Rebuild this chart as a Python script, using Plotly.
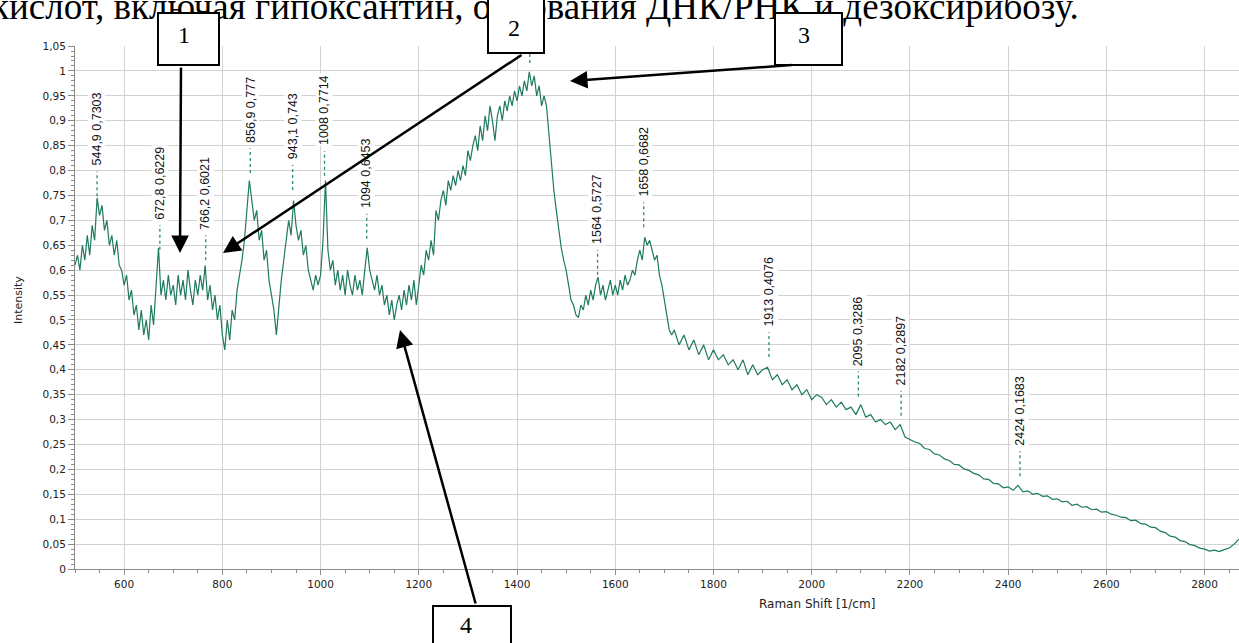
import plotly.graph_objects as go

# ---------------- data ----------------
# Raman spectrum, 500-1715 cm-1 (step 5)
x_fine = list(range(500, 1720, 5))
y_fine = [
    0.61, 0.63, 0.60, 0.65, 0.62, 0.67, 0.63, 0.69, 0.66, 0.745,   # 500-545
    0.71, 0.73, 0.68, 0.70, 0.65, 0.67, 0.63, 0.66, 0.61, 0.60,    # 550-595
    0.57, 0.59, 0.54, 0.56, 0.51, 0.53, 0.48, 0.52, 0.47, 0.50,    # 600-645
    0.46, 0.53, 0.49, 0.57, 0.645, 0.55, 0.58, 0.54, 0.59, 0.55,   # 650-695
    0.57, 0.53, 0.59, 0.55, 0.58, 0.54, 0.60, 0.56, 0.53, 0.58,    # 700-745
    0.55, 0.59, 0.56, 0.61, 0.54, 0.57, 0.52, 0.55, 0.50, 0.53,    # 750-795
    0.47, 0.44, 0.50, 0.46, 0.52, 0.50, 0.56, 0.59, 0.62, 0.66,    # 800-845
    0.72, 0.78, 0.74, 0.70, 0.72, 0.66, 0.68, 0.62, 0.64, 0.58,    # 850-895
    0.55, 0.52, 0.47, 0.53, 0.58, 0.62, 0.66, 0.70, 0.67, 0.74,    # 900-945
    0.69, 0.66, 0.68, 0.63, 0.65, 0.60, 0.58, 0.56, 0.59, 0.57,    # 950-995
    0.59, 0.66, 0.78, 0.64, 0.60, 0.62, 0.57, 0.60, 0.56, 0.59,    # 1000-1045
    0.55, 0.60, 0.57, 0.55, 0.59, 0.56, 0.58, 0.55, 0.60, 0.645,   # 1050-1095
    0.60, 0.58, 0.56, 0.59, 0.55, 0.57, 0.53, 0.55, 0.51, 0.54,    # 1100-1145
    0.50, 0.53, 0.55, 0.52, 0.56, 0.53, 0.57, 0.54, 0.58, 0.53,    # 1150-1195
    0.57, 0.61, 0.59, 0.64, 0.62, 0.66, 0.63, 0.72, 0.70, 0.74,    # 1200-1245
    0.76, 0.73, 0.78, 0.76, 0.79, 0.77, 0.80, 0.78, 0.81, 0.79,    # 1250-1295
    0.84, 0.82, 0.85, 0.87, 0.84, 0.89, 0.86, 0.91, 0.88, 0.93,    # 1300-1345
    0.90, 0.86, 0.91, 0.93, 0.90, 0.94, 0.92, 0.95, 0.93, 0.96,    # 1350-1395
    0.94, 0.97, 0.95, 0.98, 0.96, 0.998, 0.97, 0.99, 0.95, 0.97,   # 1400-1445
    0.93, 0.95, 0.93, 0.87, 0.81, 0.76, 0.72, 0.68, 0.645, 0.62,   # 1450-1495
    0.60, 0.57, 0.54, 0.53, 0.51, 0.505, 0.53, 0.52, 0.55, 0.53,   # 1500-1545
    0.56, 0.54, 0.57, 0.586, 0.55, 0.57, 0.54, 0.56, 0.58, 0.55,   # 1550-1595
    0.57, 0.55, 0.58, 0.56, 0.59, 0.57, 0.58, 0.60, 0.59, 0.62,    # 1600-1645
    0.64, 0.62, 0.666, 0.65, 0.66, 0.64, 0.62, 0.63, 0.59, 0.57,   # 1650-1695
    0.54, 0.51, 0.48, 0.47,                                        # 1700-1715
]
# Raman spectrum, 1720-2870 cm-1 (step 10)
x_coarse = list(range(1720, 2880, 10))
y_coarse = [
    0.48, 0.45, 0.47, 0.44, 0.46, 0.43, 0.45, 0.42, 0.44, 0.42,            # 1720-1810
    0.43, 0.41, 0.42, 0.40, 0.42, 0.39, 0.41, 0.39, 0.40, 0.405,           # 1820-1910
    0.38, 0.39, 0.37, 0.38, 0.36, 0.37, 0.35, 0.36, 0.34, 0.35,            # 1920-2010
    0.345, 0.33, 0.34, 0.325, 0.335, 0.32, 0.325, 0.31, 0.33, 0.305,       # 2020-2110
    0.31, 0.295, 0.30, 0.29, 0.295, 0.28, 0.29, 0.265, 0.26, 0.255,        # 2120-2210
    0.252, 0.242, 0.240, 0.231, 0.229, 0.221, 0.218, 0.210, 0.209, 0.201,  # 2220-2310
    0.198, 0.192, 0.189, 0.181, 0.180, 0.172, 0.171, 0.163, 0.165, 0.158,  # 2320-2410
    0.168, 0.155, 0.157, 0.150, 0.152, 0.146, 0.147, 0.140, 0.141, 0.135,  # 2420-2510
    0.136, 0.128, 0.130, 0.124, 0.125, 0.119, 0.120, 0.114, 0.115, 0.110,  # 2520-2610
    0.108, 0.104, 0.103, 0.097, 0.098, 0.091, 0.090, 0.084, 0.083, 0.076,  # 2620-2710
    0.073, 0.066, 0.064, 0.057, 0.055, 0.049, 0.047, 0.042, 0.040, 0.036,  # 2720-2810
    0.038, 0.035, 0.039, 0.042, 0.050, 0.060,                              # 2820-2870
]

# labelled peaks
peak_x = [544.9, 672.8, 766.2, 856.9, 943.1, 1008, 1094, 1564, 1658, 1913, 2095, 2182, 2424]
peak_y = [0.7303, 0.6229, 0.6021, 0.777, 0.743, 0.7714, 0.6453, 0.5727, 0.6682,
          0.4076, 0.3286, 0.2897, 0.1683]
# peak whose label is hidden behind box 2
hidden_peak_x = [1426]
hidden_peak_y = [0.998]

# axis ticks
x_ticks = [600, 800, 1000, 1200, 1400, 1600, 1800, 2000, 2200, 2400, 2600, 2800]
y_ticks = [round(0.05 * i, 2) for i in range(22)]
y_tick_text = [("%g" % v).replace(".", ",") for v in y_ticks]

caption_text = "кислот, включая гипоксантин, основания ДНК/РНК и дезоксирибозу."
box_labels = ["1", "2", "3", "4"]

# ---------------- layout constants ----------------
W, H = 1239, 643
L, R, T, B = 75, 0, 46, 74
PW, PH = W - L - R, H - T - B
LINE = "#1e7a60"


def fx(px):
    return (px - L) / PW


def fy(py):
    return (H - B - py) / PH


def fmt(v):
    return ("%g" % v).replace(".", ",")


fig = go.Figure()

fig.add_trace(go.Scatter(
    x=x_fine + x_coarse, y=y_fine + y_coarse, mode="lines",
    line=dict(color=LINE, width=1.2), hoverinfo="skip", showlegend=False))

# dotted peak markers
mx, my = [], []
for px_, py_ in zip(peak_x + hidden_peak_x, peak_y + hidden_peak_y):
    mx += [px_, px_, None]
    my += [py_ + 0.018, py_ + 0.068, None]
fig.add_trace(go.Scatter(
    x=mx, y=my, mode="lines", line=dict(color="#2a8a6e", width=1.3, dash="dot"),
    hoverinfo="skip", showlegend=False))

annotations = []
for px_, py_ in zip(peak_x, peak_y):
    annotations.append(dict(
        x=px_, y=py_ + 0.075, xref="x", yref="y", xanchor="center", yanchor="bottom",
        text=fmt(px_) + " " + fmt(py_), textangle=-90, showarrow=False,
        font=dict(family="Liberation Sans", size=12.5, color="#111"),
        bgcolor="white", borderpad=1))

annotations.append(dict(
    x=fx(817), y=fy(604), xref="paper", yref="paper", xanchor="center", yanchor="middle",
    showarrow=False, text="Raman Shift [1/cm]",
    font=dict(family="DejaVu Sans", size=12, color="#222")))
annotations.append(dict(
    x=fx(18), y=fy(300), xref="paper", yref="paper", xanchor="center", yanchor="middle",
    showarrow=False, textangle=-90, text="Intensity",
    font=dict(family="DejaVu Sans", size=11, color="#222")))

# document caption (cut at the top)
annotations.append(dict(
    x=fx(-11), y=fy(29), xref="paper", yref="paper", xanchor="left", yanchor="bottom",
    showarrow=False, text=caption_text,
    font=dict(family="Liberation Serif", size=37, color="black")))

# numbered boxes (white, over the caption)
boxes = [(188.5, 39, 63, 54), (516, 26, 58, 56), (808.5, 39, 69, 54), (472, 632, 80, 55)]
for cx, cy, bw, bh in boxes:
    annotations.append(dict(
        x=fx(cx), y=fy(cy), xref="paper", yref="paper", xanchor="center", yanchor="middle",
        showarrow=False, text=" ", width=bw - 4, height=bh - 4, borderpad=0,
        bgcolor="white", bordercolor="black", borderwidth=2))
num_pos = [(184, 35), (514, 28), (804, 35), (466, 625)]
for lab, (cx, cy) in zip(box_labels, num_pos):
    annotations.append(dict(
        x=fx(cx), y=fy(cy), xref="paper", yref="paper", xanchor="center", yanchor="middle",
        showarrow=False, text=lab, font=dict(family="Liberation Serif", size=24, color="black")))

# arrows: (tip_px, tip_py, tail_px, tail_py)
arrows = [(180, 253, 181, 66), (223, 253, 523, 54), (570, 81, 793, 65), (400, 330, 476, 605)]
for tx, ty, sx, sy in arrows:
    annotations.append(dict(
        x=fx(tx), y=fy(ty), xref="paper", yref="paper", text="", showarrow=True,
        ax=sx - tx, ay=sy - ty, axref="pixel", ayref="pixel",
        arrowhead=2, arrowsize=1.4, arrowwidth=2.5, arrowcolor="black", standoff=0))

fig.update_layout(
    width=W, height=H, margin=dict(l=L, r=R, t=T, b=B, pad=0),
    paper_bgcolor="white", plot_bgcolor="white",
    font=dict(family="DejaVu Sans", size=10.5, color="#222"),
    annotations=annotations,
    xaxis=dict(
        range=[500, 2870], tickmode="array", tickvals=x_ticks,
        ticktext=[str(v) for v in x_ticks],
        showgrid=True, gridcolor="#d2d2d2", gridwidth=1,
        showline=True, linecolor="#8a8a8a", linewidth=1,
        ticks="outside", ticklen=5, tickcolor="#8a8a8a",
        minor=dict(tickmode="linear", tick0=500, dtick=50, ticks="outside",
                   ticklen=3, tickcolor="#8a8a8a", showgrid=False),
        zeroline=False, tickfont=dict(family="DejaVu Sans", size=10.5, color="#222")),
    yaxis=dict(
        range=[0, 1.0501], tickmode="array", tickvals=y_ticks, ticktext=y_tick_text,
        showgrid=True, gridcolor="#d2d2d2", gridwidth=1,
        showline=True, linecolor="#8a8a8a", linewidth=1,
        ticks="outside", ticklen=6, tickcolor="#8a8a8a",
        minor=dict(tickmode="linear", tick0=0, dtick=0.01, ticks="outside",
                   ticklen=3, tickcolor="#8a8a8a", showgrid=False),
        zeroline=False, tickfont=dict(family="DejaVu Sans", size=10.5, color="#222")),
)

fig.write_html("out.html", config={"displayModeBar": False},
               post_script="document.body.style.margin='0';")
